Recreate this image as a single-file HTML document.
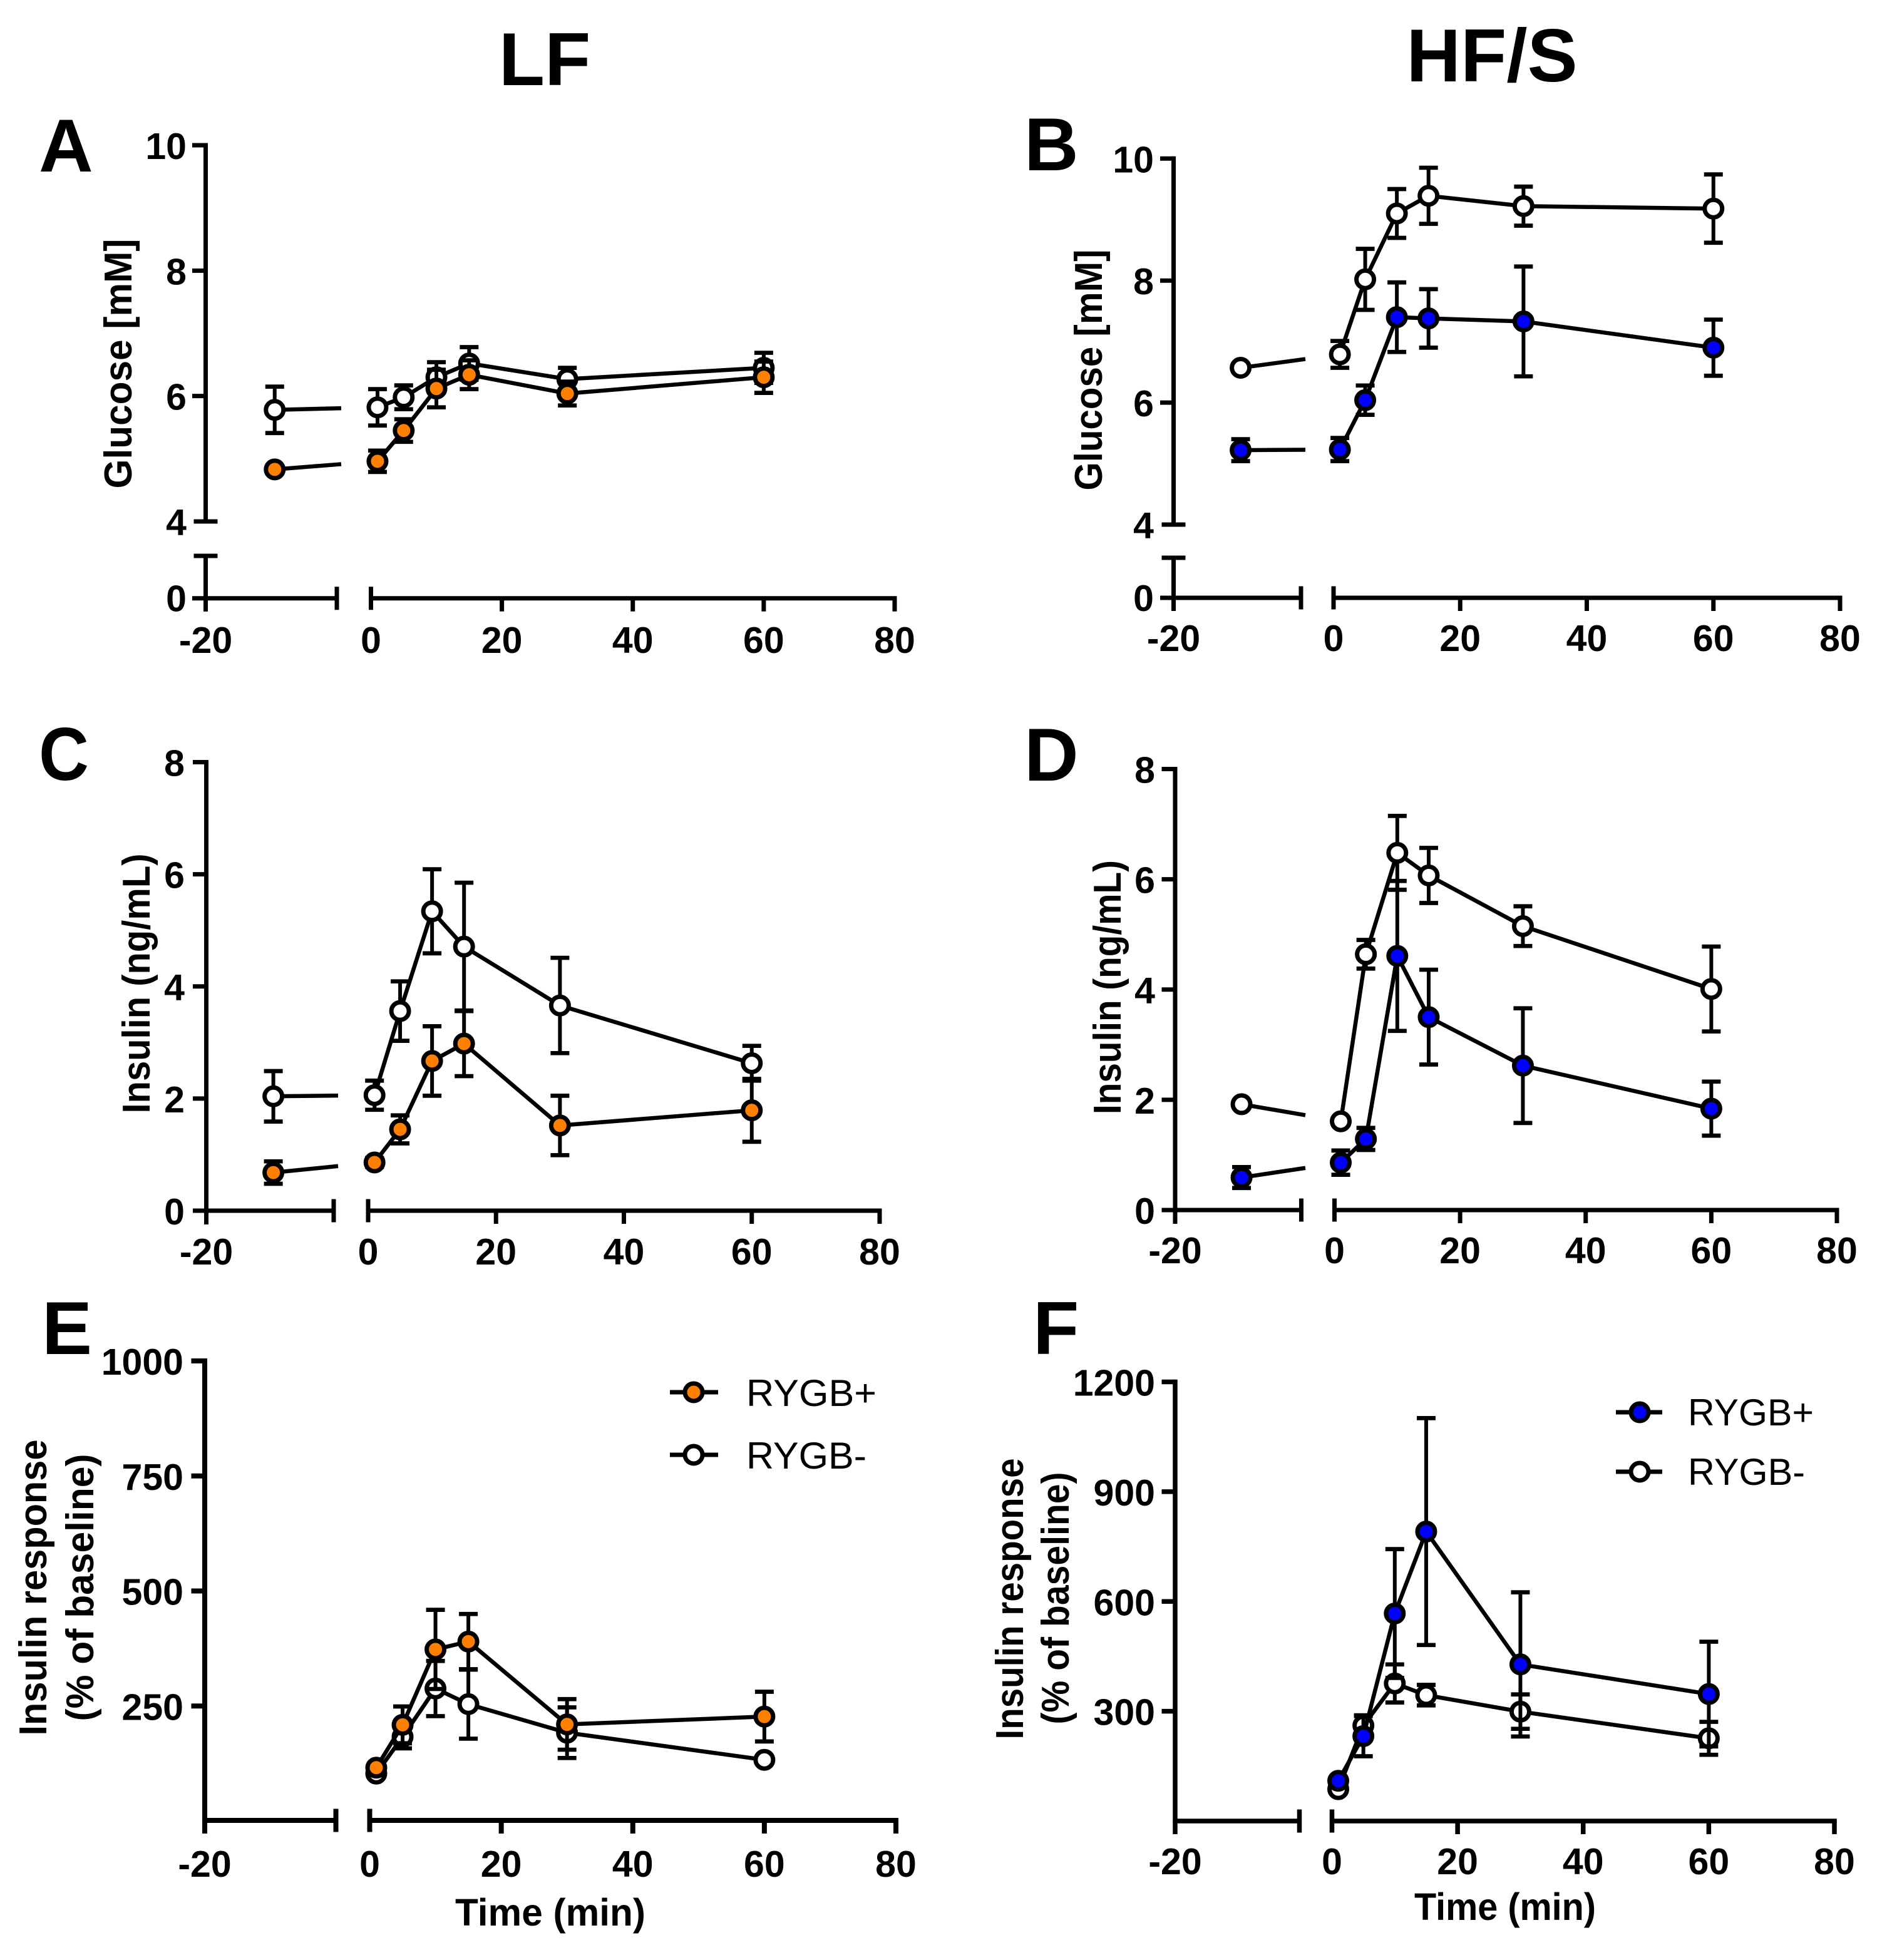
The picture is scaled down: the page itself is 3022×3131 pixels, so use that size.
<!DOCTYPE html>
<html lang="en">
<head>
<meta charset="utf-8">
<title>Glucose and insulin response, LF and HF/S</title>
<style>
html,body{margin:0;padding:0;background:#fff;}
svg{display:block;}
text{font-family:"Liberation Sans",Arial,sans-serif;fill:#000;}
.title{font-size:120px;font-weight:700;text-anchor:middle;}
.letter{font-size:120px;font-weight:700;}
.ytitle{font-size:62px;font-weight:700;text-anchor:middle;}
.xtitle{font-size:61px;font-weight:700;text-anchor:middle;}
.legend{font-size:60px;}
</style>
</head>
<body>
<svg id="figure" xmlns="http://www.w3.org/2000/svg" width="3022" height="3131" viewBox="0 0 3022 3131">
  <rect x="0" y="0" width="3022" height="3131" fill="#ffffff"/>

  <text class="title" x="870" y="136">LF</text>
  <text class="title" x="2383" y="130">HF/S</text>

  <text class="letter" x="62" y="274">A</text>
  <text class="letter" x="1636" y="272">B</text>
  <text class="letter" x="62" y="1246" textLength="80" lengthAdjust="spacingAndGlyphs">C</text>
  <text class="letter" x="1636" y="1247">D</text>
  <text class="letter" x="67" y="2163">E</text>
  <text class="letter" x="1650" y="2163">F</text>

  <text class="ytitle" transform="translate(210 581) rotate(-90)" textLength="399" lengthAdjust="spacingAndGlyphs">Glucose [mM]</text>
  <text class="ytitle" transform="translate(1760 591) rotate(-90)" textLength="385" lengthAdjust="spacingAndGlyphs">Glucose [mM]</text>
  <text class="ytitle" transform="translate(239 1571) rotate(-90)" textLength="415" lengthAdjust="spacingAndGlyphs">Insulin (ng/mL)</text>
  <text class="ytitle" transform="translate(1790 1577) rotate(-90)" textLength="406" lengthAdjust="spacingAndGlyphs">Insulin (ng/mL)</text>
  <text class="ytitle" transform="translate(74 2536) rotate(-90)" textLength="473" lengthAdjust="spacingAndGlyphs">Insulin response</text>
  <text class="ytitle" transform="translate(149 2536) rotate(-90)" textLength="427" lengthAdjust="spacingAndGlyphs">(% of baseline)</text>
  <text class="ytitle" transform="translate(1634 2554) rotate(-90)" textLength="449" lengthAdjust="spacingAndGlyphs">Insulin response</text>
  <text class="ytitle" transform="translate(1707 2553) rotate(-90)" textLength="403" lengthAdjust="spacingAndGlyphs">(% of baseline)</text>

  <text class="xtitle" x="879" y="3076" textLength="304" lengthAdjust="spacingAndGlyphs">Time (min)</text>
  <text class="xtitle" x="2404" y="3067" textLength="290" lengthAdjust="spacingAndGlyphs">Time (min)</text>

  <text class="legend" x="1192" y="2246" textLength="208" lengthAdjust="spacingAndGlyphs">RYGB+</text>
  <text class="legend" x="1192" y="2346" textLength="192" lengthAdjust="spacingAndGlyphs">RYGB-</text>
  <text class="legend" x="2696" y="2277" textLength="201" lengthAdjust="spacingAndGlyphs">RYGB+</text>
  <text class="legend" x="2696" y="2372" textLength="187" lengthAdjust="spacingAndGlyphs">RYGB-</text>
</svg>

<script>
// Sampling times (minutes)
const timesBaseline = [-10, 1, 5, 10, 15, 30, 60];
const timesResponse = [1, 5, 10, 15, 30, 60];

// Tick labels
const xTickValues = [-20, 0, 20, 40, 60, 80];
const glucoseTicks = [10, 8, 6, 4];
const insulinTicks = [8, 6, 4, 2, 0];
const responseTicksLf = [1000, 750, 500, 250];
const responseTicksHf = [1200, 900, 600, 300];

// Panel A: glucose, LF
const glucoseLfMinus = [5.78, 5.82, 5.98, 6.30, 6.52, 6.27, 6.45];
const glucoseLfMinusErr = [0.37, 0.29, 0.19, 0.24, 0.26, 0.18, 0.24];
const glucoseLfPlus = [4.83, 4.96, 5.45, 6.12, 6.34, 6.04, 6.30];
const glucoseLfPlusErr = [0.05, 0.17, 0.18, 0.30, 0.23, 0.19, 0.25];

// Panel B: glucose, HF/S
const glucoseHfMinus = [6.57, 6.79, 8.02, 9.10, 9.39, 9.22, 9.18];
const glucoseHfMinusErr = [0.05, 0.22, 0.50, 0.40, 0.46, 0.32, 0.56];
const glucoseHfPlus = [5.22, 5.23, 6.04, 7.40, 7.38, 7.33, 6.90];
const glucoseHfPlusErr = [0.18, 0.19, 0.24, 0.57, 0.48, 0.90, 0.46];

// Panel C: insulin, LF
const insulinLfMinus = [2.04, 2.06, 3.56, 5.34, 4.71, 3.66, 2.63];
const insulinLfMinusErr = [0.45, 0.26, 0.53, 0.75, 1.14, 0.85, 0.31];
const insulinLfPlus = [0.68, 0.86, 1.45, 2.67, 2.98, 1.52, 1.79];
const insulinLfPlusErr = [0.20, 0.08, 0.25, 0.62, 0.58, 0.53, 0.56];

// Panel D: insulin, HF/S
const insulinHfMinus = [1.92, 1.61, 4.64, 6.48, 6.07, 5.15, 4.01];
const insulinHfMinusErr = [0.05, 0.05, 0.26, 0.67, 0.50, 0.36, 0.77];
const insulinHfPlus = [0.59, 0.86, 1.29, 4.61, 3.50, 2.62, 1.84];
const insulinHfPlusErr = [0.19, 0.22, 0.20, 1.36, 0.86, 1.04, 0.49];

// Panel E: insulin response, LF
const responseLfMinus = [103, 183, 288, 254, 192, 133];
const responseLfMinusErr = [5, 25, 60, 75, 55, 5];
const responseLfPlus = [116, 209, 373, 390, 210, 227];
const responseLfPlusErr = [8, 40, 86, 60, 55, 54];

// Panel F: insulin response, HF/S
const responseHfMinus = [87, 261, 376, 344, 299, 226];
const responseHfMinusErr = [5, 28, 52, 28, 47, 45];
const responseHfPlus = [110, 232, 567, 791, 428, 347];
const responseHfPlusErr = [8, 55, 176, 310, 197, 143];

const ORANGE = '#ff8000';
const BLUE = '#0000ff';
const SVG_NS = 'http://www.w3.org/2000/svg';
const root = document.getElementById('figure');

const panels = [
  { id: 'a', times: timesBaseline, ticks: glucoseTicks, minus: glucoseLfMinus, minusErr: glucoseLfMinusErr,
    plus: glucoseLfPlus, plusErr: glucoseLfPlusErr, color: ORANGE, axisW: 7,
    axisX: 328.5, leftEnd: 538, zeroX: 592.5, x80: 1429, lineEnd: 545,
    topVal: 10, topY: 232, lowVal: 4, lowY: 833, baseY: 955.7, breakCapY: 888, labelY: 1043, labelRight: 298 },
  { id: 'b', times: timesBaseline, ticks: glucoseTicks, minus: glucoseHfMinus, minusErr: glucoseHfMinusErr,
    plus: glucoseHfPlus, plusErr: glucoseHfPlusErr, color: BLUE, axisW: 7,
    axisX: 1874.5, leftEnd: 2078, zeroX: 2130, x80: 2939, lineEnd: 2085,
    topVal: 10, topY: 253.3, lowVal: 4, lowY: 838, baseY: 955, breakCapY: 891, labelY: 1040, labelRight: 1843 },
  { id: 'c', times: timesBaseline, ticks: insulinTicks, minus: insulinLfMinus, minusErr: insulinLfMinusErr,
    plus: insulinLfPlus, plusErr: insulinLfPlusErr, color: ORANGE, axisW: 7,
    axisX: 329.5, leftEnd: 533, zeroX: 588, x80: 1405, lineEnd: 540,
    topVal: 8, topY: 1217.5, lowVal: 0, lowY: 1934, baseY: 1934, labelY: 2020, labelRight: 295 },
  { id: 'd', times: timesBaseline, ticks: insulinTicks, minus: insulinHfMinus, minusErr: insulinHfMinusErr,
    plus: insulinHfPlus, plusErr: insulinHfPlusErr, color: BLUE, axisW: 7,
    axisX: 1877, leftEnd: 2078.5, zeroX: 2131.5, x80: 2934, lineEnd: 2085,
    topVal: 8, topY: 1228.5, lowVal: 0, lowY: 1933, baseY: 1933, labelY: 2018, labelRight: 1845 },
  { id: 'e', times: timesResponse, ticks: responseTicksLf, minus: responseLfMinus, minusErr: responseLfMinusErr,
    plus: responseLfPlus, plusErr: responseLfPlusErr, color: ORANGE, axisW: 8,
    axisX: 327, leftEnd: 536.5, zeroX: 590.5, x80: 1431, lineEnd: 545,
    topVal: 1000, topY: 2174, lowVal: 0, lowY: 2909, baseY: 2908, labelY: 2998, labelRight: 293,
    legend: { lineStart: 1070, lineEnd: 1147, x: 1108, plusY: 2224, minusY: 2324 } },
  { id: 'f', times: timesResponse, ticks: responseTicksHf, minus: responseHfMinus, minusErr: responseHfMinusErr,
    plus: responseHfPlus, plusErr: responseHfPlusErr, color: BLUE, axisW: 7.5,
    axisX: 1877, leftEnd: 2075.5, zeroX: 2127.5, x80: 2930, lineEnd: 2083,
    topVal: 1200, topY: 2207.5, lowVal: 0, lowY: 2909, baseY: 2909, labelY: 2994, labelRight: 1845,
    legend: { lineStart: 2581, lineEnd: 2655, x: 2619, plusY: 2256, minusY: 2351 } }
];

function make(tag, attrs, parent) {
  const node = document.createElementNS(SVG_NS, tag);
  for (const key in attrs) node.setAttribute(key, attrs[key]);
  parent.appendChild(node);
  return node;
}

function seg(x1, y1, x2, y2, width, parent) {
  return make('line', { x1: x1, y1: y1, x2: x2, y2: y2, stroke: '#000', 'stroke-width': width }, parent);
}

function drawAxes(p, g, xScale, yScale) {
  const w = p.axisW;
  const axisTop = p.topY - w / 2;
  const yLine = seg(p.axisX, axisTop, p.axisX, p.breakCapY ? yScale(p.lowVal) : p.baseY + (p.id === 'e' || p.id === 'f' ? w / 2 : 22), w, g);
  
  

  if (p.breakCapY) {
    const lowerLine = seg(p.axisX, p.breakCapY, p.axisX, p.baseY + 21, w, g);
    
    
    const breakCap = seg(p.axisX - 19, p.breakCapY, p.axisX + 19, p.breakCapY, w, g);
    
    
    const zeroTick = seg(p.axisX - 21.5, p.baseY, p.axisX, p.baseY, w, g);
    
    
    const zeroLabel = make('text', { x: p.labelRight, y: p.baseY + 21, 'text-anchor': 'end', 'font-size': 59, 'font-weight': 700 }, g);
    zeroLabel.textContent = '0';
    
    
  }

  p.ticks.forEach(function (v) {
    const y = yScale(v);
    const isBreakTick = p.breakCapY && v === p.lowVal;
    const tick = seg(isBreakTick ? p.axisX - 19 : p.axisX - 21.5, y, isBreakTick ? p.axisX + 19 : p.axisX, y, w, g);
    
    
    const label = make('text', { x: p.labelRight, y: y + 22, 'text-anchor': 'end', 'font-size': 59, 'font-weight': 700 }, g);
    label.textContent = String(v);
    
    
  });

  const leftAxis = seg(p.axisX, p.baseY, p.leftEnd, p.baseY, w, g);
  
  
  const rightAxis = seg(p.zeroX, p.baseY, p.x80 + w / 2, p.baseY, w, g);
  
  
  const leftEndCap = seg(p.leftEnd, p.baseY - 18.5, p.leftEnd, p.baseY + 18.5, w, g);
  
  

  xTickValues.forEach(function (v) {
    const x = xScale(v);
    const top = v === 0 ? p.baseY - 18.5 : p.baseY;
    const bottom = v === 0 ? p.baseY + 18.5 : p.baseY + 21;
    const tick = seg(x, top, x, bottom, w, g);
    
    
    const label = make('text', { x: x, y: p.labelY, 'text-anchor': 'middle', 'font-size': 59, 'font-weight': 700 }, g);
    label.textContent = String(v);
    
    
  });
}

function drawSeries(p, g, name, values, errs, fill, xScale, yScale) {
  const series = make('g', {}, g);
  
  

  let pts = p.times.map(function (t, i) { return [xScale(t), yScale(values[i])]; });
  if (p.times[0] < 0) {
    const a = pts[0];
    const b = pts[1];
    const stubY = a[1] + (b[1] - a[1]) * (p.lineEnd - a[0]) / (b[0] - a[0]);
    const stub = seg(a[0], a[1], p.lineEnd, stubY, 6.5, series);
    
    
    pts = pts.slice(1);
  }
  const line = make('polyline', { points: pts.map(function (q) { return q.join(','); }).join(' '), fill: 'none', stroke: '#000', 'stroke-width': 6.5, 'stroke-linejoin': 'round' }, series);
  
  

  p.times.forEach(function (t, i) {
    const x = xScale(t);
    const hi = yScale(values[i] + errs[i]);
    const lo = yScale(values[i] - errs[i]);
    const bar = seg(x, hi, x, lo, 6, series);
    
    
    const capTop = seg(x - 15, hi, x + 15, hi, 6.7, series);
    
    
    const capBottom = seg(x - 15, lo, x + 15, lo, 6.7, series);
    
    
  });

  p.times.forEach(function (t, i) {
    const point = make('circle', { cx: xScale(t), cy: yScale(values[i]), r: 14, fill: fill, stroke: '#000', 'stroke-width': 7 }, series);
    
    
  });
}

function drawLegendKey(p, g, name, y, fill) {
  const key = make('line', { x1: p.legend.lineStart, y1: y, x2: p.legend.lineEnd, y2: y, stroke: '#000', 'stroke-width': 7 }, g);
  
  
  const dot = make('circle', { cx: p.legend.x, cy: y, r: 14, fill: fill, stroke: '#000', 'stroke-width': 7 }, g);
  
  
}

panels.forEach(function (p) {
  const g = make('g', {}, root);
  
  

  const xScale = function (t) {
    if (t < 0) return p.axisX + (t + 20) / 19 * (p.leftEnd - p.axisX);
    return p.zeroX + t / 80 * (p.x80 - p.zeroX);
  };
  const yScale = function (v) {
    return p.topY + (p.topVal - v) / (p.topVal - p.lowVal) * (p.lowY - p.topY);
  };

  drawAxes(p, g, xScale, yScale);
  drawSeries(p, g, 'rygb-minus', p.minus, p.minusErr, '#ffffff', xScale, yScale);
  drawSeries(p, g, 'rygb-plus', p.plus, p.plusErr, p.color, xScale, yScale);
  if (p.legend) {
    drawLegendKey(p, g, 'rygb-plus', p.legend.plusY, p.color);
    drawLegendKey(p, g, 'rygb-minus', p.legend.minusY, '#ffffff');
  }
});
</script>
</body>
</html>
